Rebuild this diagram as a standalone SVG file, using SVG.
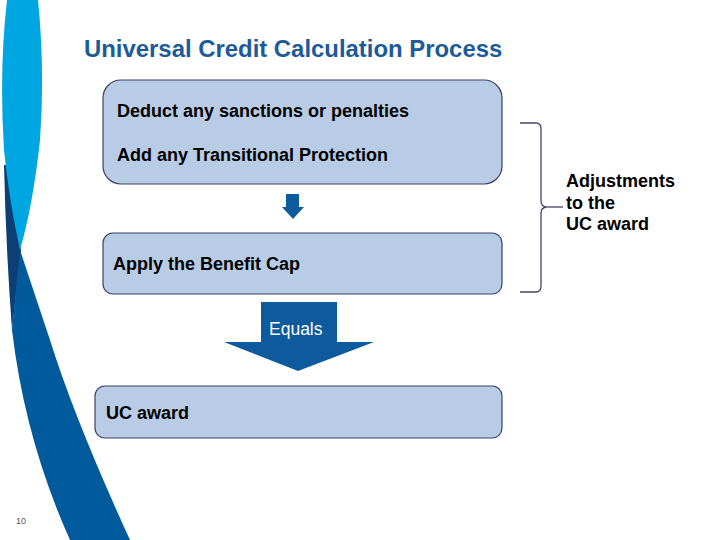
<svg xmlns="http://www.w3.org/2000/svg" width="720" height="540" viewBox="0 0 720 540">
<style>
.box{fill:#b9cce5;stroke:#3e3e66;stroke-width:1.2}
.t{font-family:"Liberation Sans",Arial,sans-serif;font-weight:bold;font-size:18px;fill:#000}
.arrow{fill:#0d5a9c}
.brace{fill:none;stroke:#4a4068;stroke-width:1.3}
</style>
<rect width="720" height="540" fill="#fff"/>
<g id="decoration">
<path d="M4,165 Q6,250 12,330 L21,250 Q14,220 8,165 Z" fill="#0c3f73"/>
<path d="M20,250 L50,340 Q75,420 130,540 L70,540 Q25,440 12,330 Z" fill="#005a9c"/>
<path d="M7,0 L38,0 Q45,70 40,140 Q33,205 20,250 Q9,200 4,150 Q-1,70 7,0 Z" fill="#00a6e2"/>
</g>
<text id="title" x="84" y="57" font-family="'Liberation Sans',Arial,sans-serif" font-weight="bold" font-size="23.9" fill="#1c5a9a">Universal Credit Calculation Process</text>
<g id="node-adjust1">
<rect class="box" x="103" y="80" width="399" height="104" rx="18"/>
<text class="t" x="117" y="117">Deduct any sanctions or penalties</text>
<text class="t" x="117" y="161">Add any Transitional Protection</text>
</g>
<g id="node-cap">
<rect class="box" x="103" y="233" width="399" height="61" rx="10"/>
<text class="t" x="113" y="270">Apply the Benefit Cap</text>
</g>
<g id="node-award">
<rect class="box" x="95" y="386" width="407" height="52" rx="10"/>
<text class="t" x="106" y="419">UC award</text>
</g>
<g id="connectors">
<path class="arrow" d="M286,194 L299,194 L299,207 L304,207 L293,219 L282,207 L286,207 Z"/>
<path class="arrow" d="M261,302 L337,302 L337,342 L374,342 L298,371 L224,342 L261,342 Z"/>
<text x="269" y="335" font-family="'Liberation Sans',Arial,sans-serif" font-size="17.5" fill="#fff">Equals</text>
<path class="brace" d="M520,123 L536,123 Q541,123 541,129 L541,201 Q541,206 546,207 Q541,208 541,213 L541,286 Q541,292 536,292 L520,292"/>
<path class="brace" d="M546,207 L563,207"/>
</g>
<g id="label-adjustments">
<text class="t" x="566" y="187">Adjustments</text>
<text class="t" x="566" y="209">to the</text>
<text class="t" x="566" y="230">UC award</text>
</g>
<text x="16" y="524" font-family="'Liberation Sans',Arial,sans-serif" font-size="9" fill="#555">10</text>
</svg>
